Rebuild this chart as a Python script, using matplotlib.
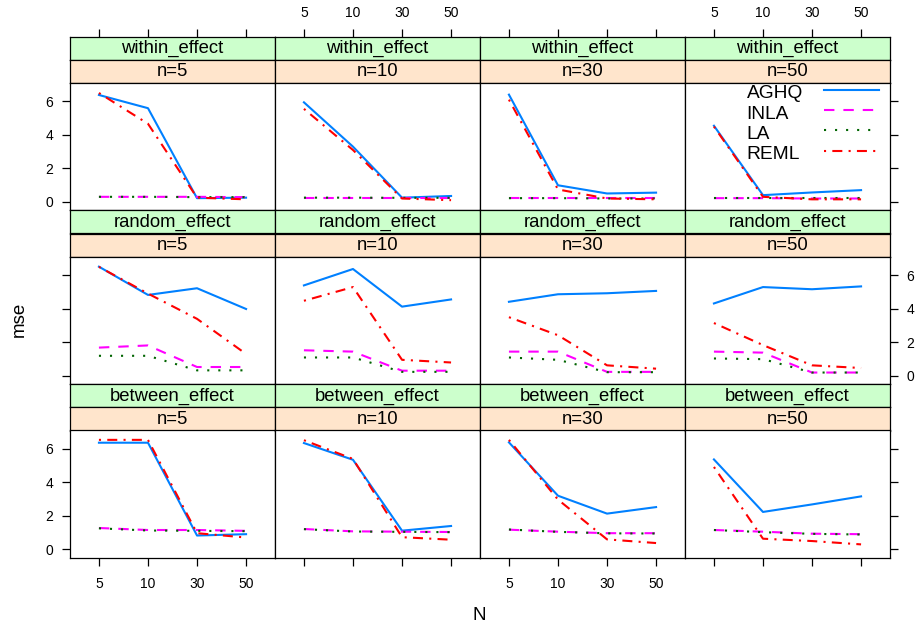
import matplotlib
matplotlib.use('Agg')
import matplotlib.pyplot as plt
from matplotlib.lines import Line2D

plt.rcParams['font.family'] = ['Liberation Sans', 'DejaVu Sans']

N_labels = ['5', '10', '30', '50']
n_levels = ['n=5', 'n=10', 'n=30', 'n=50']
effects = ['within_effect', 'random_effect', 'between_effect']
methods = ['AGHQ', 'INLA', 'LA', 'REML']

# mse values: one list per n level, 4 values for N = 5, 10, 30, 50
within_AGHQ = [[6.39, 5.60, 0.22, 0.25], [5.95, 3.30, 0.25, 0.35], [6.41, 0.99, 0.50, 0.55], [4.55, 0.40, 0.56, 0.70]]
within_INLA = [[0.30, 0.30, 0.30, 0.28], [0.25, 0.25, 0.25, 0.25], [0.22, 0.22, 0.22, 0.22], [0.22, 0.22, 0.20, 0.20]]
within_LA = [[0.30, 0.30, 0.28, 0.28], [0.25, 0.25, 0.24, 0.24], [0.22, 0.22, 0.20, 0.20], [0.20, 0.20, 0.20, 0.20]]
within_REML = [[6.51, 4.67, 0.25, 0.15], [5.56, 3.10, 0.20, 0.10], [6.11, 0.74, 0.20, 0.15], [4.50, 0.30, 0.15, 0.15]]

random_AGHQ = [[6.51, 4.82, 5.22, 3.98], [5.39, 6.37, 4.12, 4.55], [4.41, 4.86, 4.92, 5.06], [4.31, 5.29, 5.16, 5.33]]
random_INLA = [[1.67, 1.80, 0.51, 0.51], [1.51, 1.43, 0.29, 0.29], [1.43, 1.43, 0.22, 0.22], [1.43, 1.37, 0.18, 0.18]]
random_LA = [[1.18, 1.18, 0.31, 0.31], [1.08, 1.08, 0.22, 0.22], [1.08, 0.94, 0.20, 0.20], [1.02, 0.98, 0.18, 0.18]]
random_REML = [[6.50, 4.90, 3.39, 1.29], [4.47, 5.29, 0.94, 0.78], [3.49, 2.41, 0.61, 0.41], [3.14, 1.82, 0.61, 0.45]]

between_AGHQ = [[6.37, 6.37, 0.82, 0.90], [6.35, 5.35, 1.11, 1.39], [6.39, 3.20, 2.13, 2.52], [5.37, 2.23, 2.68, 3.16]]
between_INLA = [[1.27, 1.15, 1.15, 1.10], [1.21, 1.07, 1.05, 1.03], [1.17, 1.05, 0.96, 0.96], [1.15, 1.05, 0.93, 0.90]]
between_LA = [[1.25, 1.12, 1.10, 1.08], [1.20, 1.06, 1.04, 1.02], [1.18, 1.04, 0.95, 0.94], [1.15, 1.02, 0.92, 0.88]]
between_REML = [[6.54, 6.54, 0.96, 0.70], [6.52, 5.40, 0.72, 0.57], [6.54, 2.97, 0.59, 0.37], [4.92, 0.63, 0.49, 0.29]]

data = {
    'within_effect': [within_AGHQ, within_INLA, within_LA, within_REML],
    'random_effect': [random_AGHQ, random_INLA, random_LA, random_REML],
    'between_effect': [between_AGHQ, between_INLA, between_LA, between_REML],
}

colors = ['#0080ff', '#ff00ff', '#006400', '#ff0000']
dashes = [None, (5, 4.3), (1, 4.3), (1, 3, 4.8, 3)]

W, H = 915, 631
fig = plt.figure(figsize=(W / 100, H / 100), dpi=100)


def fx(x):
    return x / W


def fy(y):
    return 1 - y / H


col_x = [70, 275, 480, 685]
col_w = 205
top0 = 36.5
row_h = 173.7
strip_h = 23.3
panel_h = row_h - 2 * strip_h
frame_lw = 0.9
tick_fs = 10
text_fs = 13.3
line_w = 1.5
xpos = [1, 2, 3, 4]

for r, eff in enumerate(effects):
    for c, nl in enumerate(n_levels):
        y_top = top0 + r * row_h
        axg = fig.add_axes([fx(col_x[c]), fy(y_top + strip_h), col_w / W, strip_h / H])
        axo = fig.add_axes([fx(col_x[c]), fy(y_top + 2 * strip_h), col_w / W, strip_h / H])
        axp = fig.add_axes([fx(col_x[c]), fy(y_top + row_h), col_w / W, panel_h / H])
        for ax, col, txt in [(axg, '#ccffcc', eff), (axo, '#ffe5cc', nl)]:
            ax.set_facecolor(col)
            ax.set_xlim(0.41, 4.59)
            ax.set_ylim(0, 1)
            ax.set_yticks([])
            ax.set_xticks([])
            for s in ax.spines.values():
                s.set_linewidth(frame_lw)
            ax.text(0.5, 0.48, txt, transform=ax.transAxes, ha='center', va='center',
                    fontsize=text_fs, color='black')
        if r == 0:
            axg.set_xticks(xpos)
            axg.set_xticklabels(N_labels)
            axg.tick_params(axis='x', top=True, bottom=False, labeltop=(c in (1, 3)),
                            labelbottom=False, direction='out', length=6, width=frame_lw,
                            pad=6, labelsize=tick_fs)
        vals = data[eff]
        for m, meth in enumerate(methods):
            line, = axp.plot(xpos, vals[m][c], color=colors[m], lw=line_w, label=meth)
            if dashes[m] is not None:
                line.set_dashes(dashes[m])
        axp.set_xlim(0.41, 4.59)
        axp.set_ylim(-0.5, 7.1)
        axp.set_xticks(xpos)
        axp.set_xticklabels(N_labels)
        axp.set_yticks([0, 2, 4, 6])
        for s in axp.spines.values():
            s.set_linewidth(frame_lw)
        axp.tick_params(axis='x', bottom=(r == 2), labelbottom=(r == 2 and c in (0, 2)),
                        top=False, labeltop=False, direction='out', length=6,
                        width=frame_lw, pad=8, labelsize=tick_fs)
        axp.tick_params(axis='y', left=(c == 0), labelleft=(c == 0 and r != 1),
                        right=(c == 3), labelright=(c == 3 and r == 1), direction='out',
                        length=6, width=frame_lw, pad=6, labelsize=tick_fs)

# key (lattice style: labels left-aligned, line samples on the right)
for m, meth in enumerate(methods):
    yb = 98.5 + 20.2 * m
    yl = 90 + 20.2 * m
    fig.text(fx(746.5), fy(yb), meth, ha='left', va='baseline', fontsize=13.8)
    ln = Line2D([fx(823.5), fx(879)], [fy(yl), fy(yl)], transform=fig.transFigure,
                color=colors[m], lw=line_w)
    if dashes[m] is not None:
        ln.set_dashes(dashes[m])
    fig.add_artist(ln)

fig.text(fx(19), fy(319), 'mse', rotation=90, ha='center', va='center', fontsize=13.5)
fig.text(fx(479), fy(616), 'N', ha='center', va='center', fontsize=13.5)

fig.savefig('out.png', dpi=100)
